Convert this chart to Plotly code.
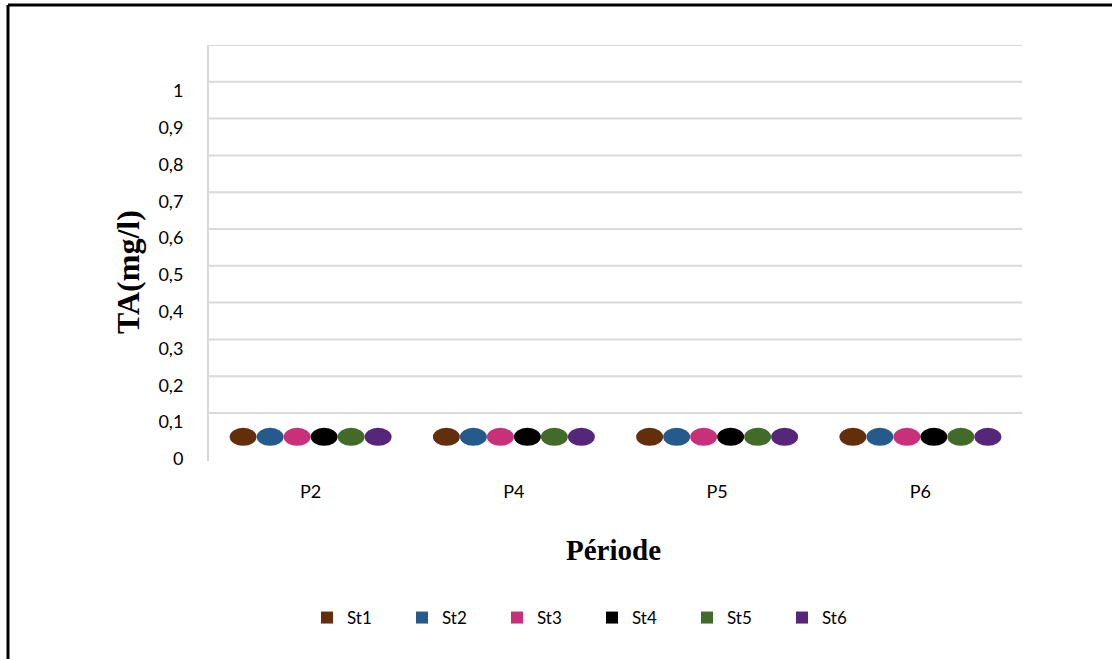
import plotly.graph_objects as go

# Total alkalinity (TA, mg/l) per sampling period and station
periods = ["P2", "P4", "P5", "P6"]
stations = ["St1", "St2", "St3", "St4", "St5", "St6"]
st1 = [0, 0, 0, 0]
st2 = [0, 0, 0, 0]
st3 = [0, 0, 0, 0]
st4 = [0, 0, 0, 0]
st5 = [0, 0, 0, 0]
st6 = [0, 0, 0, 0]
series = [st1, st2, st3, st4, st5, st6]
colors = ["#632E0C", "#245B8C", "#C8307A", "#000000", "#426A28", "#55267A"]

y_ticks = [0, 0.1, 0.2, 0.3, 0.4, 0.5, 0.6, 0.7, 0.8, 0.9, 1]
y_tick_labels = ["0", "0,1", "0,2", "0,3", "0,4", "0,5", "0,6", "0,7", "0,8", "0,9", "1"]
grid_values = [0.1, 0.2, 0.3, 0.4, 0.5, 0.6, 0.7, 0.8, 0.9, 1.0, 1.1]

W, H = 1112, 659
L, R, T, B = 209, 90, 45, 198
PW, PH = W - L - R, H - T - B


def px_x(px):
    return (px - L) / PW


def px_y(py):
    return (H - B - py) / PH


BARGAP = 0.203
n = len(stations)
slot = (1 - BARGAP) / n

fig = go.Figure()
shapes = []

# back-wall gridlines
for g in grid_values:
    shapes.append(dict(type="line", xref="paper", yref="y", x0=0, x1=1, y0=g, y1=g,
                       line=dict(color="#D9D9D9", width=2), layer="below"))

for k, (name, vals, col) in enumerate(zip(stations, series, colors)):
    fig.add_trace(go.Bar(name=name, x=periods, y=vals, marker=dict(color=col, line=dict(width=0))))
    # cylinder tops (flat cylinders seen in perspective)
    for i, v in enumerate(vals):
        cx = i - (1 - BARGAP) / 2 + (k + 0.5) * slot
        shapes.append(dict(type="circle", xref="x", yref="y", ysizemode="pixel", yanchor=v,
                           x0=cx - slot / 2, x1=cx + slot / 2, y0=4, y1=22,
                           fillcolor=col, line=dict(width=0), layer="above"))

# outer frame (top and left edges)
shapes.append(dict(type="line", xref="paper", yref="paper", x0=px_x(8), x1=px_x(1112),
                   y0=px_y(5), y1=px_y(5), line=dict(color="black", width=3)))
shapes.append(dict(type="line", xref="paper", yref="paper", x0=px_x(8), x1=px_x(8),
                   y0=px_y(5), y1=px_y(659), line=dict(color="black", width=3)))

y_span = 1.1 / (PH - 11.2)  # value per pixel so that 0.1..1.1 lines fit
fig.update_layout(
    width=W, height=H,
    margin=dict(l=L, r=R, t=T, b=B),
    paper_bgcolor="white", plot_bgcolor="white",
    barmode="group", bargap=BARGAP, bargroupgap=0,
    showlegend=True,
    legend=dict(orientation="h", x=px_x(307), xanchor="left", y=px_y(618), yanchor="middle",
                font=dict(family="Lato", size=17, color="black"),
                entrywidth=50, entrywidthmode="pixels", itemwidth=30,
                bgcolor="rgba(0,0,0,0)"),
    xaxis=dict(type="category", showgrid=False, showline=False, ticks="", zeroline=False,
               tickfont=dict(family="Lato", size=18, color="black"), ticklabelstandoff=18),
    yaxis=dict(range=[-11.2 * y_span, 1.1], showgrid=False, zeroline=False,
               tickvals=y_ticks, ticktext=y_tick_labels, ticks="",
               ticklabelshift=9, ticklabelstandoff=20,
               showline=True, linecolor="#D9D9D9", linewidth=2,
               tickfont=dict(family="Lato", size=18, color="black")),
    shapes=shapes,
    annotations=[
        dict(text="<b>TA(mg/l)</b>", xref="paper", yref="paper", x=px_x(128), y=px_y(272),
             textangle=-90, showarrow=False, xanchor="center", yanchor="middle",
             font=dict(family="Liberation Serif", size=32, color="black")),
        dict(text="<b>Période</b>", xref="paper", yref="paper", x=px_x(613), y=px_y(550),
             showarrow=False, xanchor="center", yanchor="middle",
             font=dict(family="Liberation Serif", size=29, color="black")),
    ],
)

fig.write_html("out.html")
